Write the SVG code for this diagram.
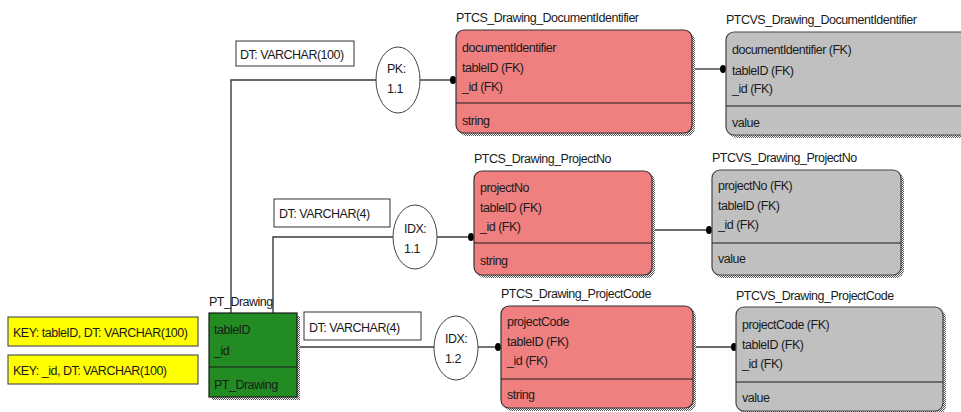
<svg xmlns="http://www.w3.org/2000/svg" width="961" height="412" viewBox="0 0 961 412">
<defs>
<pattern id="dots" width="2" height="2" patternUnits="userSpaceOnUse">
<rect width="2" height="2" fill="#ffffff"/>
<rect width="1" height="1" fill="#555555"/>
<rect x="1" y="1" width="1" height="1" fill="#555555"/>
</pattern>
</defs>
<style>
text{font-family:"Liberation Sans",Arial,sans-serif;font-size:12.5px;letter-spacing:-0.5px;fill:#1a1a1a}
.red{fill:#F08080;stroke:#333;stroke-width:1.2}
.gray{fill:#C0C0C0;stroke:#444;stroke-width:1.2}
.green{fill:#228B22;stroke:#1a1a1a;stroke-width:1.2}
.shadow{fill:url(#dots)}
.div{stroke:#1a1a1a;stroke-width:1.2}
.conn{stroke:#3a3a3a;stroke-width:1.4;fill:none}
.dot{fill:#000}
.oval{fill:#fff;stroke:#444;stroke-width:1}
.lbl{fill:#fff;stroke:#333;stroke-width:1}
.key{fill:#FFFF00;stroke:#555;stroke-width:1.2}
</style>

<g id="connectors">
<polyline class="conn" points="231,313 231,80 376,80"/>
<line class="conn" x1="420" y1="80" x2="452" y2="80"/>
<polyline class="conn" points="273,313 273,237 393,237"/>
<line class="conn" x1="437" y1="237" x2="470" y2="237"/>
<line class="conn" x1="297" y1="347" x2="434" y2="347"/>
<line class="conn" x1="478" y1="347" x2="497" y2="347"/>
<line class="conn" x1="692" y1="69" x2="722" y2="69"/>
<line class="conn" x1="652" y1="230" x2="708" y2="230"/>
<line class="conn" x1="693" y1="347" x2="733" y2="347"/>
<ellipse class="dot" cx="453" cy="80" rx="3" ry="4"/>
<ellipse class="dot" cx="471" cy="237" rx="3" ry="4"/>
<ellipse class="dot" cx="498" cy="347" rx="3" ry="4"/>
<ellipse class="dot" cx="723" cy="69" rx="3" ry="4"/>
<ellipse class="dot" cx="709" cy="230" rx="3" ry="4"/>
<ellipse class="dot" cx="734" cy="347" rx="3" ry="4"/>
</g>

<g id="label-pk">
<rect class="lbl" x="236" y="41" width="118" height="25"/>
<text x="240" y="59">DT: VARCHAR(100)</text>
<ellipse class="oval" cx="398" cy="80" rx="22" ry="33"/>
<text x="387" y="73">PK:</text>
<text x="387" y="93">1.1</text>
</g>

<g id="label-idx11">
<rect class="lbl" x="274" y="199" width="116" height="28"/>
<text x="279" y="218">DT: VARCHAR(4)</text>
<ellipse class="oval" cx="415" cy="237" rx="22" ry="32"/>
<text x="404" y="233">IDX:</text>
<text x="404" y="253">1.1</text>
</g>

<g id="label-idx12">
<rect class="lbl" x="304" y="312" width="117" height="28"/>
<text x="309" y="332">DT: VARCHAR(4)</text>
<ellipse class="oval" cx="456" cy="348" rx="22" ry="32"/>
<text x="445" y="343">IDX:</text>
<text x="445" y="363">1.2</text>
</g>

<g id="key1">
<rect class="key" x="8" y="317" width="190" height="29"/>
<text x="13" y="337">KEY: tableID, DT: VARCHAR(100)</text>
</g>
<g id="key2">
<rect class="key" x="8" y="355" width="190" height="29"/>
<text x="13" y="375">KEY: _id, DT: VARCHAR(100)</text>
</g>

<g id="PT_Drawing">
<text x="209" y="306">PT_Drawing</text>
<rect class="shadow" x="212" y="316" width="88" height="84"/>
<rect class="green" x="209" y="313" width="88" height="84"/>
<line class="div" x1="209" y1="367" x2="297" y2="367"/>
<text x="214" y="334">tableID</text>
<text x="214" y="355">_id</text>
<text x="214" y="389">PT_Drawing</text>
</g>

<g id="PTCS_Drawing_DocumentIdentifier">
<text x="456" y="22">PTCS_Drawing_DocumentIdentifier</text>
<rect class="shadow" x="459" y="33" width="236" height="103" rx="8"/>
<rect class="red" x="456" y="30" width="236" height="103" rx="8"/>
<line class="div" x1="456" y1="103" x2="692" y2="103"/>
<text x="462" y="52">documentIdentifier</text>
<text x="462" y="72">tableID (FK)</text>
<text x="462" y="91">_id (FK)</text>
<text x="462" y="125">string</text>
</g>

<g id="PTCVS_Drawing_DocumentIdentifier">
<text x="726" y="24">PTCVS_Drawing_DocumentIdentifier</text>
<rect class="shadow" x="729" y="35" width="250" height="103" rx="8"/>
<rect class="gray" x="726" y="32" width="250" height="103" rx="8"/>
<line class="div" x1="726" y1="106" x2="961" y2="106"/>
<text x="732" y="54">documentIdentifier (FK)</text>
<text x="732" y="75">tableID (FK)</text>
<text x="732" y="93">_id (FK)</text>
<text x="732" y="127">value</text>
</g>

<g id="PTCS_Drawing_ProjectNo">
<text x="474" y="163">PTCS_Drawing_ProjectNo</text>
<rect class="shadow" x="477" y="174" width="178" height="104" rx="8"/>
<rect class="red" x="474" y="171" width="178" height="104" rx="8"/>
<line class="div" x1="474" y1="243" x2="652" y2="243"/>
<text x="480" y="192">projectNo</text>
<text x="480" y="212">tableID (FK)</text>
<text x="480" y="231">_id (FK)</text>
<text x="480" y="265">string</text>
</g>

<g id="PTCVS_Drawing_ProjectNo">
<text x="712" y="162">PTCVS_Drawing_ProjectNo</text>
<rect class="shadow" x="715" y="173" width="189" height="105" rx="8"/>
<rect class="gray" x="712" y="170" width="189" height="105" rx="8"/>
<line class="div" x1="712" y1="243" x2="901" y2="243"/>
<text x="718" y="190">projectNo (FK)</text>
<text x="718" y="210">tableID (FK)</text>
<text x="718" y="229">_id (FK)</text>
<text x="718" y="263">value</text>
</g>

<g id="PTCS_Drawing_ProjectCode">
<text x="501" y="298">PTCS_Drawing_ProjectCode</text>
<rect class="shadow" x="504" y="309" width="192" height="102" rx="8"/>
<rect class="red" x="501" y="306" width="192" height="102" rx="8"/>
<line class="div" x1="501" y1="379" x2="693" y2="379"/>
<text x="507" y="326">projectCode</text>
<text x="507" y="346">tableID (FK)</text>
<text x="507" y="365">_id (FK)</text>
<text x="507" y="399">string</text>
</g>

<g id="PTCVS_Drawing_ProjectCode">
<text x="736" y="300">PTCVS_Drawing_ProjectCode</text>
<rect class="shadow" x="739" y="310" width="207" height="104" rx="8"/>
<rect class="gray" x="736" y="307" width="207" height="104" rx="8"/>
<line class="div" x1="736" y1="382" x2="943" y2="382"/>
<text x="742" y="329">projectCode (FK)</text>
<text x="742" y="349">tableID (FK)</text>
<text x="742" y="368">_id (FK)</text>
<text x="742" y="402">value</text>
</g>
</svg>
